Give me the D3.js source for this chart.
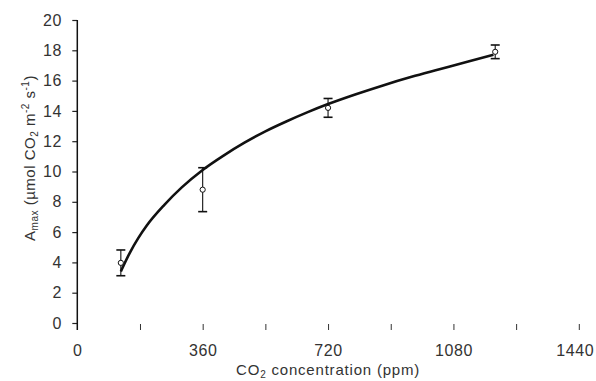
<!DOCTYPE html>
<html>
<head>
<meta charset="utf-8">
<script src="https://cdn.jsdelivr.net/npm/d3@7/dist/d3.min.js"></script>
<style>
  html, body { margin: 0; padding: 0; background: #fff; }
  svg { display: block; }
  text { font-family: "Liberation Sans", Arial, sans-serif; fill: #333; }
</style>
</head>
<body>
<svg id="chart" width="596" height="381"></svg>
<script>
// Measured photosynthesis (mean ± error) at each CO2 level
const co2Levels = [125, 360, 720, 1200];
const amaxMeans = [3.97, 8.8, 14.2, 17.9];
const amaxErrors = [0.85, 1.45, 0.62, 0.45];

// Fitted response curve through the measurements
const curveCO2 = [125, 150, 175, 200, 250, 300, 360, 420, 480, 540, 600, 660, 720, 800, 880, 960, 1040, 1120, 1195];
const curveAmax = [3.4, 4.6, 5.6, 6.45, 7.8, 8.95, 10.1, 11.05, 11.9, 12.65, 13.3, 13.9, 14.45, 15.1, 15.7, 16.25, 16.75, 17.25, 17.7];

// Axis ticks
const xTickValues = [0, 180, 360, 540, 720, 900, 1080, 1260, 1440];
const xTickLabels = [0, 360, 720, 1080, 1440];
const yTickValues = [0, 2, 4, 6, 8, 10, 12, 14, 16, 18, 20];

const svg = d3.select("#chart");
const x = d3.scaleLinear().domain([0, 1440]).range([77.3, 578.8]);
const y = d3.scaleLinear().domain([0, 20]).range([323, 20]);

// Y axis: vertical line with outward ticks and labels
const yAxis = d3.axisLeft(y).tickValues(yTickValues).tickSize(5).tickPadding(10).tickSizeOuter(0);
const gy = svg.append("g").attr("transform", `translate(${x(0)},0)`).call(yAxis);
gy.select(".domain").remove();
gy.selectAll(".tick line").attr("stroke", "#222").attr("stroke-width", 1.2);
gy.selectAll(".tick text").attr("font-size", 16).attr("letter-spacing", "0.8px")
  .style("font-family", '"Liberation Sans", Arial, sans-serif').attr("fill", "#333");
svg.append("line").attr("x1", x(0)).attr("x2", x(0)).attr("y1", y(20)).attr("y2", y(0) + 7)
  .attr("stroke", "#111").attr("stroke-width", 1.5);

// X axis: only short tick marks below the baseline, labels every 360 ppm
const xAxis = d3.axisBottom(x).tickValues(xTickValues).tickSize(7).tickPadding(15)
  .tickFormat(d => xTickLabels.includes(d) ? d : "");
const gx = svg.append("g").attr("transform", `translate(0,${y(0)})`).call(xAxis);
gx.select(".domain").remove();
gx.selectAll(".tick line").attr("stroke", "#333").attr("stroke-width", 1)
  .attr("y1", 1).attr("y2", 7);
gx.selectAll(".tick").filter(d => d === 0).select("line").remove();
gx.selectAll(".tick text").attr("font-size", 16).attr("letter-spacing", "0.6px")
  .style("font-family", '"Liberation Sans", Arial, sans-serif').attr("fill", "#333");
// keep the last label inside the right edge
gx.selectAll(".tick").filter(d => d === 1440).select("text").attr("dx", -4);

// Fitted curve
const line = d3.line().x((d, i) => x(curveCO2[i])).y(d => y(d)).curve(d3.curveMonotoneX);
svg.append("path").datum(curveAmax).attr("d", line)
  .attr("fill", "none").attr("stroke", "#111").attr("stroke-width", 2.6);

// Error bars and open markers
const pts = co2Levels.map((c, i) => ({ c, m: amaxMeans[i], e: amaxErrors[i] }));
const eb = svg.append("g").attr("stroke", "#111").attr("stroke-width", 1.1);
pts.forEach(p => {
  const cx = x(p.c);
  eb.append("line").attr("x1", cx).attr("x2", cx).attr("y1", y(p.m + p.e)).attr("y2", y(p.m - p.e));
  [p.m + p.e, p.m - p.e].forEach(v => {
    eb.append("line").attr("x1", cx - 4.5).attr("x2", cx + 4.5).attr("y1", y(v)).attr("y2", y(v))
      .attr("stroke-width", 1.6);
  });
  svg.append("circle").attr("cx", cx).attr("cy", y(p.m)).attr("r", 2.6)
    .attr("fill", "#fff").attr("stroke", "#111").attr("stroke-width", 1);
});

// Axis titles
const xt = svg.append("text").attr("x", (x(0) + x(1440)) / 2).attr("y", 375)
  .attr("text-anchor", "middle").attr("font-size", 15).attr("letter-spacing", "0.8px");
xt.append("tspan").text("CO");
xt.append("tspan").attr("font-size", 10).attr("dy", 3).text("2");
xt.append("tspan").attr("dy", -3).text(" concentration (ppm)");

const yt = svg.append("text").attr("transform", "translate(35,158) rotate(-90)")
  .attr("text-anchor", "middle").attr("font-size", 15).attr("letter-spacing", "0.5px");
yt.append("tspan").text("A");
yt.append("tspan").attr("font-size", 10).attr("dy", 3).text("max");
yt.append("tspan").attr("dy", -3).text(" (µmol CO");
yt.append("tspan").attr("font-size", 10).attr("dy", 3).text("2");
yt.append("tspan").attr("dy", -3).text(" m");
yt.append("tspan").attr("font-size", 10).attr("dy", -6).text("-2");
yt.append("tspan").attr("dy", 6).text(" s");
yt.append("tspan").attr("font-size", 10).attr("dy", -6).text("-1");
yt.append("tspan").attr("dy", 6).text(")");
</script>
</body>
</html>
